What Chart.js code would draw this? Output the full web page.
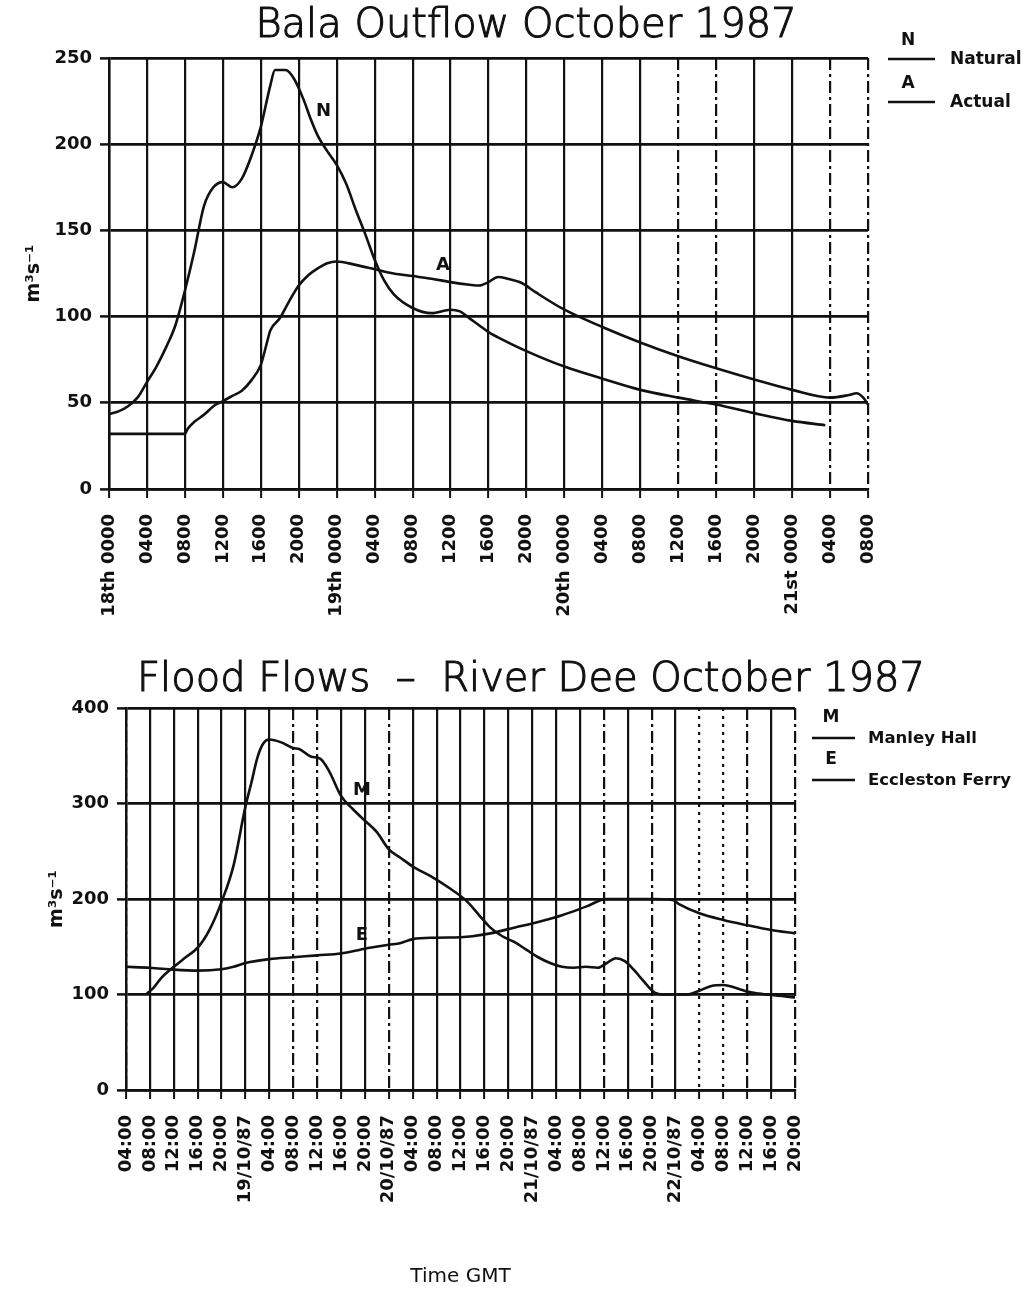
<!DOCTYPE html>
<html>
<head>
<meta charset="utf-8">
<script src="https://cdn.jsdelivr.net/npm/chart.js@4.4.0/dist/chart.umd.min.js"></script>
<style>
  body { margin: 0; background: #fff; }
  #wrap { position: relative; width: 1031px; height: 1292px; }
  canvas { position: absolute; left: 0; }
  #bala { top: 0; }
  #dee { top: 650px; }
</style>
</head>
<body>
<div id="wrap">
  <canvas id="bala" width="1031" height="640"></canvas>
  <canvas id="dee" width="1031" height="642"></canvas>
</div>
<script>
/* Bala outflow, hours counted from 18th 0000 */
const naturalHours = [0, 1, 2, 3, 4, 5, 6, 7, 8, 9, 10, 11, 12, 13, 14, 15, 16, 17, 17.5, 18.6, 19.5, 20.5, 21.3, 22, 23, 24, 25, 26, 27, 28, 29, 30, 32, 34, 36, 37, 38, 39, 40, 41, 44, 48, 52, 56, 60, 64, 68, 72, 75.5];
const naturalFlow  = [43.5, 45, 48, 53, 62, 71, 82, 95, 115, 138, 164, 175, 178, 175, 180, 193, 210, 234, 243, 243, 238, 226, 214, 205, 196, 188, 177, 162, 148, 133, 121, 113, 105, 102, 104, 103, 99, 95, 91, 88, 80, 71, 64, 57.5, 53, 49, 44, 39.5, 37];
const actualHours  = [0, 8, 8.3, 9, 10, 11, 12, 13, 14, 15, 16, 16.7, 17, 18, 19, 20, 21, 22, 23, 24, 26, 28, 30, 32, 34, 36, 38, 39, 40, 41, 42, 43.5, 45, 48, 52, 56, 60, 64, 68, 72, 76, 78, 78.8, 79.5, 80];
const actualFlow   = [32, 32, 35, 39, 43, 48, 51, 54, 57, 63, 72, 86, 92, 99, 109, 118, 124, 128, 131, 132, 130, 127.5, 125, 123.5, 122, 120, 118.5, 118, 120, 123, 122, 119.5, 114, 104, 94, 85, 77, 70, 63.5, 57.5, 53, 54.5, 55.5, 53, 49];
const balaTicks = ['18th 0000', '0400', '0800', '1200', '1600', '2000',
                   '19th 0000', '0400', '0800', '1200', '1600', '2000',
                   '20th 0000', '0400', '0800', '1200', '1600', '2000',
                   '21st 0000', '0400', '0800'];

/* River Dee, hours counted from 18/10/87 00:00 */
const manleyHours = [7.5, 8.6, 10, 12, 14, 16, 18, 20, 22, 24, 25, 26, 27, 28, 30, 32, 33, 35, 36.5, 38, 40, 42, 44, 46, 48, 50, 52, 55, 58, 61, 63, 65, 67, 69, 71, 73, 75, 77, 79, 81, 83, 84.5, 86, 87.5, 89, 90.5, 92.5, 94, 98, 100, 102, 104, 106, 108, 110, 112, 116];
const manleyFlow  = [101, 107, 118, 129, 139, 149, 168, 197, 235, 297, 322, 348, 363, 367, 364, 358, 357, 349, 347, 334, 308, 294, 282, 270, 252, 243, 234, 224, 212, 198, 184, 170, 161, 155, 147, 139, 133, 129, 128, 129, 128, 133, 138, 135, 126, 115, 102, 100, 100, 104, 109, 110, 107, 103, 101, 99.5, 97];
const ecclestonHours = [4, 8, 12, 16, 20, 22, 24, 28, 32, 36, 40, 44, 48, 50, 52, 56, 60, 62, 65, 69, 73, 77, 81, 84.5, 88, 92, 95.5, 96.5, 100, 104, 108, 112, 116];
const ecclestonFlow  = [129, 128, 126, 125, 126.5, 129, 133, 137, 139, 141, 143, 148, 152, 154, 158, 159.5, 160, 161, 164, 170, 176, 183, 192, 200, 200, 200, 199, 195, 185, 178, 172.5, 167.5, 164];
const deeTicks = ['04:00', '08:00', '12:00', '16:00', '20:00', '19/10/87',
                  '04:00', '08:00', '12:00', '16:00', '20:00', '20/10/87',
                  '04:00', '08:00', '12:00', '16:00', '20:00', '21/10/87',
                  '04:00', '08:00', '12:00', '16:00', '20:00', '22/10/87',
                  '04:00', '08:00', '12:00', '16:00', '20:00'];

const ink = '#111';
const tickFont = { family: '"DejaVu Sans"', size: 18, weight: 'bold' };

// which vertical grid lines look broken on the copy (0 solid, 1 dash-dot, 2 dotted)
const balaLineStyle = [0,0,0,0,0,0, 0,0,0,0,0,0, 0,0,0,1,1,0, 0,1,1];
const deeLineStyle  = [1,0,0,0,0,0, 0,1,1,0,0,1, 0,0,0,0,0,0, 0,0,1,0,1,0, 2,2,1,0,1];
const dashes = [[], [12, 4, 3, 4], [3, 5]];

function pairs(xs, ys) {
  return xs.map((x, i) => ({ x: x, y: ys[i] }));
}

function series(label, xs, ys) {
  return {
    label: label,
    data: pairs(xs, ys),
    borderColor: ink,
    borderWidth: 2.6,
    pointRadius: 0,
    fill: false,
    cubicInterpolationMode: 'monotone'
  };
}

function decor(cfg) {
  return {
    id: 'decor',
    beforeDraw(chart) {
      const c = chart.ctx;
      c.save();
      c.fillStyle = '#fff';
      c.fillRect(0, 0, chart.width, chart.height);
      c.restore();
    },
    afterDraw(chart) {
      const c = chart.ctx, xs = chart.scales.x, ys = chart.scales.y, right = chart.chartArea.right;
      c.save();
      c.fillStyle = ink;
      c.strokeStyle = ink;
      c.textBaseline = 'middle';
      c.textAlign = 'center';
      // thin plotter-like lettering, thickened a little
      c.font = '200 40px "DejaVu Sans"';
      c.lineWidth = 1.1;
      c.fillText(cfg.title, cfg.titleX, cfg.titleY);
      c.strokeText(cfg.title, cfg.titleX, cfg.titleY);

      // letters sitting on the curves
      c.font = 'bold 18px "DejaVu Sans"';
      cfg.tags.forEach(t => c.fillText(t.text, xs.getPixelForValue(t.x), ys.getPixelForValue(t.y)));

      // key: letter over a short rule, name to the right
      const L = cfg.legend;
      L.keys.forEach((k, i) => {
        const y = L.top + i * L.step;
        c.textAlign = 'center';
        c.font = 'bold 17px "DejaVu Sans"';
        c.fillText(k, right + L.letterDx, y);
        c.lineWidth = 2.5;
        c.beginPath();
        c.moveTo(right + L.lineFrom, y + L.lineDy);
        c.lineTo(right + L.lineTo, y + L.lineDy);
        c.stroke();
        c.textAlign = 'left';
        c.font = L.font;
        c.fillText(L.names[i], right + L.textDx, y + L.lineDy + 1);
      });
      c.restore();
    }
  };
}

function makeChart(id, opt) {
  return new Chart(document.getElementById(id), {
    type: 'line',
    data: { datasets: opt.datasets },
    plugins: [decor(opt.decor)],
    options: {
      responsive: false,
      animation: false,
      devicePixelRatio: 1,
      layout: { padding: opt.padding },
      plugins: { legend: { display: false }, tooltip: { enabled: false }, title: { display: false } },
      scales: {
        x: {
          type: 'linear',
          min: opt.xMin,
          max: opt.xMax,
          afterFit: s => { s.height = opt.xHeight; },
          afterBuildTicks: s => {
            s.ticks = opt.ticks.map((t, i) => ({ value: opt.xMin + i * 4 }));
          },
          ticks: {
            autoSkip: false,
            minRotation: 90,
            maxRotation: 90,
            padding: opt.xPad,
            color: ink,
            font: tickFont,
            callback: (v, i) => opt.ticks[i]
          },
          grid: { color: ink, lineWidth: 2.2, tickLength: 9, tickColor: ink, tickWidth: 2 },
          border: {
            color: ink,
            width: 2.5,
            dash: ctx => (ctx.type === 'tick' ? dashes[opt.lineStyle[ctx.index] || 0] : [])
          },
          title: opt.xTitle
        },
        y: {
          min: 0,
          max: opt.yMax,
          afterFit: s => { s.width = opt.yWidth; },
          ticks: { stepSize: opt.yStep, padding: 8, color: ink, font: tickFont },
          grid: { color: ink, lineWidth: 2.8, tickLength: 9, tickColor: ink, tickWidth: 2.5 },
          border: { color: ink, width: 2.5 },
          title: {
            display: true,
            text: 'm³s⁻¹',
            color: ink,
            font: { family: '"DejaVu Sans"', size: 19, weight: 'bold' },
            padding: { top: opt.yTitlePad, bottom: 0 }
          }
        }
      }
    }
  });
}

makeChart('bala', {
  datasets: [series('Natural', naturalHours, naturalFlow), series('Actual', actualHours, actualFlow)],
  padding: { left: 20, right: 163, top: 58, bottom: 0 },
  xMin: 0, xMax: 80, xHeight: 151, xPad: 16,
  ticks: balaTicks,
  lineStyle: balaLineStyle,
  xTitle: { display: false },
  yMax: 250, yStep: 50, yWidth: 89, yTitlePad: 3,
  decor: {
    title: 'Bala Outflow October 1987', titleX: 526, titleY: 27,
    tags: [{ text: 'N', x: 22.6, y: 219 }, { text: 'A', x: 35.2, y: 130 }],
    legend: { keys: ['N', 'A'], names: ['Natural', 'Actual'], top: 41, step: 43,
              letterDx: 40, lineFrom: 20, lineTo: 67, lineDy: 18, textDx: 82,
              font: 'bold 17px "DejaVu Sans"' }
  }
});

makeChart('dee', {
  datasets: [series('Manley Hall', manleyHours, manleyFlow), series('Eccleston Ferry', ecclestonHours, ecclestonFlow)],
  padding: { left: 20, right: 236, top: 58, bottom: 0 },
  xMin: 4, xMax: 116, xHeight: 202, xPad: 16,
  ticks: deeTicks,
  lineStyle: deeLineStyle,
  xTitle: {
    display: true,
    text: 'Time GMT',
    color: ink,
    font: { family: '"DejaVu Sans"', size: 20 },
    padding: { top: 0, bottom: 3 }
  },
  yMax: 400, yStep: 100, yWidth: 106, yTitlePad: 26,
  decor: {
    title: 'Flood Flows  –  River Dee October 1987', titleX: 531, titleY: 31,
    tags: [{ text: 'M', x: 43.5, y: 314 }, { text: 'E', x: 43.5, y: 162 }],
    legend: { keys: ['M', 'E'], names: ['Manley Hall', 'Eccleston Ferry'], top: 68, step: 42,
              letterDx: 36, lineFrom: 17, lineTo: 60, lineDy: 20, textDx: 73,
              font: 'bold 16.5px "DejaVu Sans"' }
  }
});
</script>
</body>
</html>
